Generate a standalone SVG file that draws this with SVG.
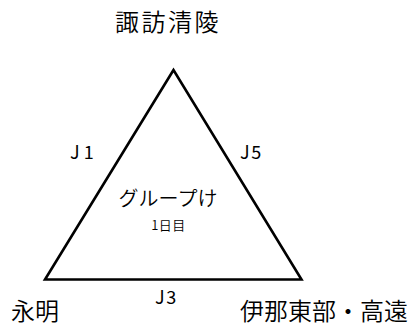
<svg xmlns="http://www.w3.org/2000/svg" width="414" height="326" viewBox="0 0 414 326">
<style>
text{font-family:"Noto Sans CJK JP","Noto Sans",sans-serif;fill:#000;font-weight:350}
.school{font-size:24px}
.edge{font-size:18px;font-weight:400}
.edgeline{fill:none;stroke:#000;stroke-width:2.6;stroke-linejoin:miter}
</style>
<rect width="414" height="326" fill="#fff"/>
<g id="connectors">
<path class="edgeline" d="M173.5 70 L45 279.5 L301.5 279.5 Z"/>
<text class="edge" x="70" y="159" letter-spacing="4">J1</text>
<text class="edge" x="240" y="159" letter-spacing="1.5">J5</text>
<text class="edge" x="155" y="304" letter-spacing="1.5">J3</text>
</g>
<g id="node-suwaseiryo">
<text class="school" x="115" y="31" letter-spacing="2.5">諏訪清陵</text>
</g>
<g id="node-eimei">
<text class="school" x="11" y="320">永明</text>
</g>
<g id="node-inatobu-takato">
<text class="school" x="240" y="320">伊那東部・高遠</text>
</g>
<g id="group-label">
<text x="168" y="206" font-size="20" text-anchor="middle">グループけ</text>
<text x="168.5" y="230" font-size="13" text-anchor="middle" letter-spacing="0.5">1日目</text>
</g>
</svg>
